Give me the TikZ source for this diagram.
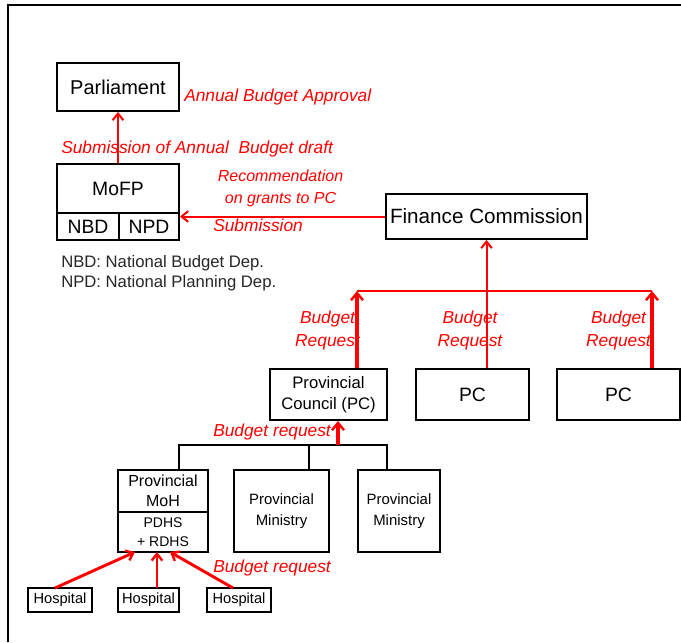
\documentclass[tikz,border=0pt]{standalone}
\usepackage{fontspec}
\setmainfont{Liberation Sans}
\usetikzlibrary{arrows.meta}
\begin{document}
\begin{tikzpicture}[x=0.75pt,y=-0.75pt,
  box/.style={draw=black,line width=1.4pt,inner sep=0pt,align=center,fill=white},
  lbl/.style={text=red,font=\itshape\fontsize{13}{14}\selectfont,inner sep=0pt,align=center},
  rarrow/.style={draw=red,line width=1.5pt,-{Straight Barb[length=5pt,width=8pt,line width=1.5pt]}},
  tharrow/.style={draw=red,line width=3pt,-{Straight Barb[length=5.5pt,width=9pt,line width=1.8pt]}},
  harrow/.style={draw=red,line width=2.2pt,-{Straight Barb[length=5pt,width=8pt,line width=1.8pt]}},
  bus/.style={draw=black,line width=1.4pt}]
\useasboundingbox (0,0) rectangle (681,642);
\draw[line width=1.5pt] (8,642) -- (8,5) -- (681,5);

% boxes
\node[box,minimum width=122*0.75pt,minimum height=48*0.75pt,font=\fontsize{15}{16}\selectfont] (parl) at (118,87) {Parliament};
\node[box,minimum width=122*0.75pt,minimum height=49*0.75pt,font=\fontsize{14.5}{16}\selectfont] (mofp) at (118,188.5) {MoFP};
\node[box,minimum width=62*0.75pt,minimum height=27*0.75pt,font=\fontsize{14.5}{16}\selectfont] (nbd) at (88,226.5) {NBD};
\node[box,minimum width=60*0.75pt,minimum height=27*0.75pt,font=\fontsize{14.5}{16}\selectfont] (npd) at (149,226.5) {NPD};
\node[box,minimum width=201*0.75pt,minimum height=45*0.75pt,font=\fontsize{15.5}{17}\selectfont] (fc) at (486.5,216.5) {Finance Commission};
\node[box,minimum width=117*0.75pt,minimum height=51*0.75pt,font=\fontsize{12.5}{16}\selectfont] (pc1) at (328.5,394.5) {Provincial\\Council (PC)};
\node[box,minimum width=113*0.75pt,minimum height=51*0.75pt,font=\fontsize{14.5}{16}\selectfont] (pc2) at (472.5,394.5) {PC};
\node[box,minimum width=123*0.75pt,minimum height=51*0.75pt,font=\fontsize{14.5}{16}\selectfont] (pc3) at (618.5,394.5) {PC};
\node[box,minimum width=90*0.75pt,minimum height=42*0.75pt,font=\fontsize{12}{15}\selectfont] (moh) at (163,491) {Provincial\\MoH};
\node[box,minimum width=90*0.75pt,minimum height=40*0.75pt,font=\fontsize{10.5}{14}\selectfont] (pdhs) at (163,532) {PDHS\\+ RDHS};
\node[box,minimum width=95*0.75pt,minimum height=82*0.75pt,font=\fontsize{11.2}{16}\selectfont] (min1) at (281.5,511) {Provincial\\Ministry};
\node[box,minimum width=82*0.75pt,minimum height=82*0.75pt,font=\fontsize{11.2}{16}\selectfont] (min2) at (399,511) {Provincial\\Ministry};
\node[box,minimum width=64*0.75pt,minimum height=24*0.75pt,font=\fontsize{11}{12}\selectfont] (h1) at (60,600) {Hospital};
\node[box,minimum width=61*0.75pt,minimum height=24*0.75pt,font=\fontsize{11}{12}\selectfont] (h2) at (148.5,600) {Hospital};
\node[box,minimum width=64*0.75pt,minimum height=24*0.75pt,font=\fontsize{11}{12}\selectfont] (h3) at (239,600) {Hospital};

% legend
\node[anchor=west,inner sep=0pt,font=\fontsize{12.5}{13}\selectfont,text=black!85] (leg1) at (61,263) {NBD: National Budget Dep.};
\node[anchor=west,inner sep=0pt,font=\fontsize{12.5}{13}\selectfont,text=black!85] (leg2) at (61,283) {NPD: National Planning Dep.};

% top arrows
\draw[rarrow] (mofp.north) -- (parl.south);
\draw[rarrow] (fc.west) -- (fc.west -| npd.east);

% Finance commission requests
\coordinate (b1) at (357,291);
\coordinate (b3) at (652,291);
\draw[red,line width=1.2pt] (b1) -- (b3);
\draw[rarrow] (fc.south |- pc2.north) -- (fc.south);
\draw[tharrow] (b1 |- pc1.north) -- (b1);
\draw[tharrow] (b3 |- pc3.north) -- (b3);

% lower bus
\coordinate (busL) at (179,445);
\coordinate (busM) at (309,445);
\coordinate (busR) at (387,445);
\coordinate (busA) at (338,445);
\draw[bus] (busL |- moh.north) -- (busL) -- (busR) -- (busR |- min2.north);
\draw[bus] (busM) -- (busM |- min1.north);
\draw[tharrow] (busA) -- (busA |- pc1.south);

% hospital arrows
\coordinate (t1) at (135,552);
\coordinate (t2) at (157,552);
\coordinate (t3) at (170,552);
\coordinate (s1) at (55,588);
\coordinate (s2) at (157,588);
\coordinate (s3) at (233,588);
\draw[harrow] (s1) -- (t1);
\draw[harrow] (s2) -- (t2);
\draw[harrow] (s3) -- (t3);

% labels
\node[lbl,anchor=west] (l1) at (184,97) {Annual Budget Approval};
\node[lbl,anchor=west] (l2) at (61,149) {Submission of Annual\ \ Budget draft};
\node[lbl,font=\itshape\fontsize{12}{16}\selectfont] (l3) at (280.5,188.5) {Recommendation\\on grants to PC};
\node[lbl,anchor=west] (l4) at (213,225) {Submission};
\node[lbl,font=\itshape\fontsize{13}{17.5}\selectfont] (l5) at (327.5,330.5) {Budget\\Request};
\node[lbl,font=\itshape\fontsize{13}{17.5}\selectfont] (l6) at (470,330.5) {Budget\\Request};
\node[lbl,font=\itshape\fontsize{13}{17.5}\selectfont] (l7) at (618.5,330.5) {Budget\\Request};
\node[lbl,anchor=west] (l8) at (213,432) {Budget request};
\node[lbl,anchor=west] (l9) at (213,568) {Budget request};
\end{tikzpicture}
\end{document}
